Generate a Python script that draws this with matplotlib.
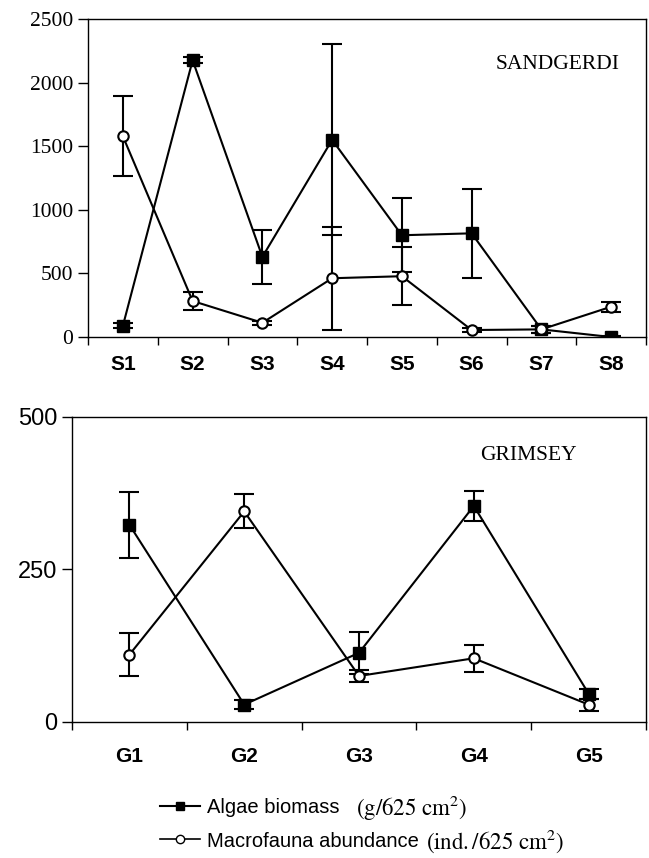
import numpy as np
import matplotlib.pyplot as plt

plt.rcParams['mathtext.fontset'] = 'stix'

# Sandgerdi
s_sites = ['S1', 'S2', 'S3', 'S4', 'S5', 'S6', 'S7', 'S8']
s_algae = [88, 2175, 630, 1550, 800, 815, 60, 0]
s_algae_err = [20, 25, 210, 752, 290, 350, 25, 5]
s_macro = [1578, 283, 112, 462, 478, 55, 60, 238]
s_macro_err = [315, 68, 15, 405, 228, 12, 25, 38]

# Grimsey
g_sites = ['G1', 'G2', 'G3', 'G4', 'G5']
g_algae = [323, 28, 113, 354, 46]
g_algae_err = [54, 8, 34, 25, 8]
g_macro = [110, 345, 75, 104, 28]
g_macro_err = [35, 28, 10, 22, 10]

fig = plt.figure(figsize=(6.49, 8.58), dpi=100)
ax1 = fig.add_axes([0.1356, 0.6072, 0.8598, 0.3707])
ax2 = fig.add_axes([0.111, 0.1589, 0.8844, 0.3551])

sq = dict(marker='s', ms=8, color='black', mfc='black', lw=1.5,
          capsize=7.5, elinewidth=1.5, capthick=1.5)
ci = dict(marker='o', ms=7.5, color='black', mfc='white', mew=1.5, lw=1.5,
          capsize=7.5, elinewidth=1.5, capthick=1.5)


def draw(ax, sites, algae, aerr, macro, merr, pad):
    x = np.arange(len(sites))
    ax.errorbar(x, algae, yerr=aerr, zorder=3, **sq)
    ax.errorbar(x, macro, yerr=merr, zorder=4, **ci)
    ax.set_xlim(-0.5, len(sites) - 0.5)
    ax.set_xticks(np.arange(len(sites) + 1) - 0.5)
    ax.set_xticklabels([])
    ax.set_xticks(x, minor=True)
    ax.set_xticklabels(sites, minor=True, fontsize=15, fontweight='bold',
                       fontfamily='Liberation Sans')
    ax.tick_params(axis='x', which='major', direction='out', length=6, width=1)
    ax.tick_params(axis='x', which='minor', length=0, pad=pad)
    ax.tick_params(axis='y', direction='out', length=7, width=1)
    for sp in ax.spines.values():
        sp.set_linewidth(1)


draw(ax1, s_sites, s_algae, s_algae_err, s_macro, s_macro_err, 13)
ax1.set_ylim(0, 2500)
ax1.set_yticks([0, 500, 1000, 1500, 2000, 2500])
for lab in ax1.get_yticklabels():
    lab.set_fontfamily('Liberation Serif')
    lab.set_fontsize(15.5)
ax1.text(0.953, 0.858, 'SANDGERDI', transform=ax1.transAxes, ha='right',
         va='center', fontsize=15.5, fontfamily='Liberation Serif')

draw(ax2, g_sites, g_algae, g_algae_err, g_macro, g_macro_err, 18)
ax2.set_ylim(0, 500)
ax2.set_yticks([0, 250, 500])
for lab in ax2.get_yticklabels():
    lab.set_fontfamily('Liberation Sans')
    lab.set_fontsize(17)
ax2.text(0.795, 0.872, 'GRIMSEY', transform=ax2.transAxes, ha='center',
         va='center', fontsize=15.5, fontfamily='Liberation Serif')

# legend: sans labels with serif units placed right after them
h1 = plt.Line2D([], [], marker='s', ms=6, color='black', lw=1.5)
h2 = plt.Line2D([], [], marker='o', ms=6, color='black', mfc='white', lw=1.2)
leg = fig.legend([h1, h2], ['Algae biomass', 'Macrofauna abundance'],
                 loc='upper left', bbox_to_anchor=(0.219, 0.091),
                 frameon=False, handlelength=1.95, handletextpad=0.35,
                 labelspacing=0.72,
                 prop={'family': 'Liberation Sans', 'size': 14.5})
units = [r'$\mathrm{(g/625\ cm^2)}$', r'$\mathrm{(ind./625\ cm^2)}$']
gaps = [17, 8]
fig.canvas.draw()
r = fig.canvas.get_renderer()
for t, u, g in zip(leg.get_texts(), units, gaps):
    bb = t.get_window_extent(r)
    fig.text((bb.x1 + g) / fig.bbox.width, (bb.y0 + bb.y1) / 2 / fig.bbox.height,
             u, ha='left', va='center', fontsize=16.5)

fig.savefig('out.png', dpi=100)
